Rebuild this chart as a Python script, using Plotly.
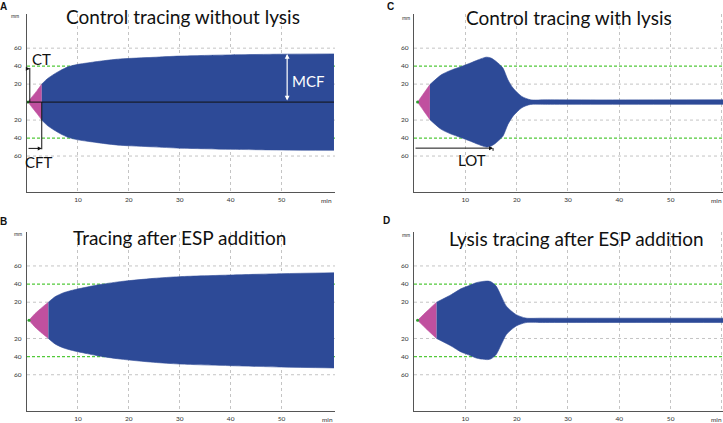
import plotly.graph_objects as go

W, H = 723, 423

# ---------------- data (time in min, amplitude in mm) ----------------
# Panel A: Control tracing without lysis
a_pink_t = [0.2, 1.0, 2.0, 2.9]
a_pink_amp = [0, 6, 13, 20]
a_blue_t = [2.9, 4, 5.3, 6.5, 8.2, 10, 11.8, 15, 18.3, 24.8, 30, 40, 50, 60.3]
a_blue_amp = [20, 26, 31, 35, 39.5, 42, 43.5, 46, 48, 49.8, 51.2, 52.5, 53.3, 53.6]

# Panel B: Tracing after ESP addition
b_pink_t = [0.4, 1.5, 3.0, 4.2]
b_pink_amp = [0, 7, 14.5, 20]
b_blue_t = [4.2, 5.5, 7.2, 9.5, 11.8, 13.8, 18.3, 24.9, 30, 40, 50, 60.3]
b_blue_amp = [20, 26, 30.5, 34, 36.7, 39, 42.7, 46.3, 48.2, 50, 51.5, 52.5]

# Panel C: Control tracing with lysis
c_pink_t = [0.7, 1.8, 3.1]
c_pink_amp = [0, 9, 19.5]
c_blue_t = [3.1, 5.3, 7.0, 9.2, 11.0, 12.5, 14.1, 15.0, 16.0, 17.3, 18.3, 19.3, 21.0, 22.7, 26, 60.2]
c_blue_amp = [19.5, 30.3, 35, 39.6, 43.5, 47, 50, 49, 45.2, 38.1, 24.8, 15.6, 6.3, 2.6, 2.5, 2.5]

# Panel D: Lysis tracing after ESP addition
d_pink_t = [0.7, 2.5, 4.4]
d_pink_amp = [0, 10, 20]
d_blue_t = [4.4, 7.3, 9.2, 10.5, 12.1, 13.1, 14.4, 15.0, 16.0, 17.0, 18.0, 19.9, 21.8, 25, 60.2]
d_blue_amp = [20, 28.5, 35, 37.8, 41.5, 42.7, 43.3, 42.5, 37.8, 26.7, 15.6, 6.3, 2.5, 2.4, 2.4]

titles = ["Control tracing without lysis", "Control tracing with lysis",
          "Tracing after ESP addition", "Lysis tracing after ESP addition"]
letters = ["A", "C", "B", "D"]
x_ticks = [10, 20, 30, 40, 50]
y_ticks = [-60, -40, -20, 20, 40, 60]
y_tick_text = ["60", "40", "20", "20", "40", "60"]
grey_levels = [60, 20, -20, -60]
green_levels = [40, -40]

# annotation values (panel A / C)
ct_time, ct_top = 0.55, 37
cft_time, cft_level = 2.9, -51.5
mcf_time, mcf_value = 51.1, 53.5
lot_time, lot_level = 15.4, -51.2

BLUE = "#2D4A97"
PINK = "#C0509F"
GREEN = "#52C93A"
GRID = "#c4c4c4"
AXIS = "#555555"
FONT = "Lato"

fig = go.Figure()

# panel layout: (suffix, x domain px, y domain px, x range)
panels = [
    ("", (27, 335), (14, 192), (0, 60.5), a_pink_t, a_pink_amp, a_blue_t, a_blue_amp),
    ("2", (414, 723), (14, 192), (0, 60.2), c_pink_t, c_pink_amp, c_blue_t, c_blue_amp),
    ("3", (27, 335), (231.5, 411), (0, 60.5), b_pink_t, b_pink_amp, b_blue_t, b_blue_amp),
    ("4", (414, 723), (231.5, 411), (0, 60.2), d_pink_t, d_pink_amp, d_blue_t, d_blue_amp),
]


def env(t, amp, color, xa, ya):
    ln = dict(color=color, width=0.6, shape="spline", smoothing=0.7)
    fig.add_trace(go.Scatter(x=t, y=amp, mode="lines", line=ln, xaxis=xa, yaxis=ya,
                             hoverinfo="skip", showlegend=False))
    fig.add_trace(go.Scatter(x=t, y=[-v for v in amp], mode="lines", line=ln,
                             fill="tonexty", fillcolor=color, xaxis=xa, yaxis=ya,
                             hoverinfo="skip", showlegend=False))


shapes = []
annotations = []
for i, (suf, xd, yd, xr, pt, pa, bt, ba) in enumerate(panels):
    xa, ya = "x" + suf, "y" + suf
    env(pt, pa, PINK, xa, ya)
    env(bt, ba, BLUE, xa, ya)
    fig.add_trace(go.Scatter(x=[pt[0]], y=[0], mode="markers",
                             marker=dict(color="#2ca02c", size=3), xaxis=xa, yaxis=ya,
                             hoverinfo="skip", showlegend=False))
    xt = x_ticks + ([60] if xr[1] < 60.4 else [])
    fig.layout["xaxis" + suf] = dict(
        domain=[xd[0] / W, xd[1] / W], range=list(xr), anchor=ya,
        tickmode="array", tickvals=xt, ticktext=[str(v) if v < 60 else "" for v in xt],
        showgrid=True, gridcolor=GRID, griddash="dot", gridwidth=1,
        showline=True, linecolor=AXIS, linewidth=1.2, zeroline=False, ticks="",
        tickfont=dict(size=6.5, color="#333", family=FONT), ticklabelstandoff=1,
        fixedrange=True)
    fig.layout["yaxis" + suf] = dict(
        domain=[1 - yd[1] / H, 1 - yd[0] / H], range=[-100, 98], anchor=xa,
        tickmode="array", tickvals=y_ticks, ticktext=y_tick_text,
        showgrid=False,
        showline=True, linecolor=AXIS, linewidth=1.2, zeroline=False, ticks="",
        tickfont=dict(size=6.5, color="#333", family=FONT), ticklabelstandoff=3,
        fixedrange=True)
    for g in grey_levels:
        shapes.append(dict(type="line", xref=xa + " domain", yref=ya, x0=0, x1=1, y0=g, y1=g,
                           line=dict(color=GRID, width=1, dash="dot"), layer="below"))
    for g in green_levels:
        shapes.append(dict(type="line", xref=xa + " domain", yref=ya, x0=0, x1=1, y0=g, y1=g,
                           line=dict(color=GREEN, width=1.2, dash="3px,2px"), layer="below"))
    # title
    cx = [183, 568.5, 179, 576.7][i]
    cy = [16.7, 18, 237.7, 238.3][i]
    annotations.append(dict(text=titles[i], xref="paper", yref="paper", x=cx / W, y=1 - cy / H,
                            showarrow=False, font=dict(family=FONT, size=19, color="#111"),
                            xanchor="center", yanchor="middle"))
    lx = [3.3, 390, 3, 386][i]
    ly = [6.3, 6.7, 221, 220][i]
    annotations.append(dict(text="<b>%s</b>" % letters[i], xref="paper", yref="paper",
                            x=lx / W, y=1 - ly / H, showarrow=False,
                            font=dict(family="Liberation Sans", size=10, color="#111"),
                            xanchor="center", yanchor="middle"))
    mx = [15, 406, 18, 406][i]
    my = [16, 18, 234, 235][i]
    annotations.append(dict(text="mm", xref="paper", yref="paper", x=mx / W, y=1 - my / H,
                            showarrow=False, font=dict(family=FONT, size=5, color="#333"),
                            xanchor="center", yanchor="middle"))
    nx = [326, 716, 327, 716][i]
    ny = [200, 200, 419, 419][i]
    annotations.append(dict(text="min", xref="paper", yref="paper", x=nx / W, y=1 - ny / H,
                            showarrow=False, font=dict(family=FONT, size=6.5, color="#333"),
                            xanchor="center", yanchor="middle"))

# ---- Panel A annotations ----
shapes.append(dict(type="line", xref="x", yref="y", x0=0, x1=a_blue_t[-1], y0=0, y1=0,
                   line=dict(color="#111", width=1), layer="above"))
shapes.append(dict(type="line", xref="x", yref="y", x0=ct_time, x1=ct_time, y0=0, y1=ct_top + 1,
                   line=dict(color="#111", width=1), layer="above"))
shapes.append(dict(type="line", xref="x", yref="y", x0=cft_time, x1=cft_time, y0=0, y1=cft_level - 1,
                   line=dict(color="#111", width=1), layer="above"))
annotations += [
    dict(x=ct_time, y=ct_top, ax=0, ay=ct_top, xref="x", yref="y", axref="x", ayref="y",
         text="", showarrow=True, arrowhead=2, arrowsize=0.8, arrowwidth=1, arrowcolor="#111"),
    dict(x=cft_time, y=cft_level, ax=0, ay=cft_level, xref="x", yref="y", axref="x", ayref="y",
         text="", showarrow=True, arrowhead=2, arrowsize=0.8, arrowwidth=1, arrowcolor="#111"),
    dict(x=2.85, y=47.4, xref="x", yref="y", text="CT", showarrow=False,
         font=dict(family=FONT, size=15, color="#111")),
    dict(x=2.45, y=-66.8, xref="x", yref="y", text="CFT", showarrow=False,
         font=dict(family=FONT, size=15, color="#111")),
    dict(x=mcf_time, y=mcf_value, ax=mcf_time, ay=0, xref="x", yref="y", axref="x", ayref="y",
         text="", showarrow=True, arrowhead=2, arrowside="end+start", arrowsize=0.8,
         arrowwidth=1.2, arrowcolor="white"),
    dict(x=55.2, y=24, xref="x", yref="y", text="MCF", showarrow=False,
         font=dict(family=FONT, size=15, color="white")),
]

# ---- Panel C annotation ----
annotations += [
    dict(x=lot_time, y=lot_level, ax=0, ay=lot_level, xref="x2", yref="y2", axref="x2", ayref="y2",
         text="", showarrow=True, arrowhead=2, arrowsize=0.8, arrowwidth=1, arrowcolor="#111"),
    dict(x=11.3, y=-64, xref="x2", yref="y2", text="LOT", showarrow=False,
         font=dict(family=FONT, size=15, color="#111")),
]
shapes.append(dict(type="line", xref="x2", yref="y2", x0=lot_time, x1=lot_time,
                   y0=lot_level, y1=lot_level - 3, line=dict(color="#111", width=1), layer="above"))

fig.update_layout(width=W, height=H, autosize=False, margin=dict(l=0, r=0, t=0, b=0),
                  paper_bgcolor="white", plot_bgcolor="white", showlegend=False,
                  font=dict(family=FONT), shapes=shapes, annotations=annotations)

fig.write_html("out.html", config={"displayModeBar": False, "staticPlot": True},
               post_script="document.body.style.margin='0px';document.body.style.overflow='hidden';")
